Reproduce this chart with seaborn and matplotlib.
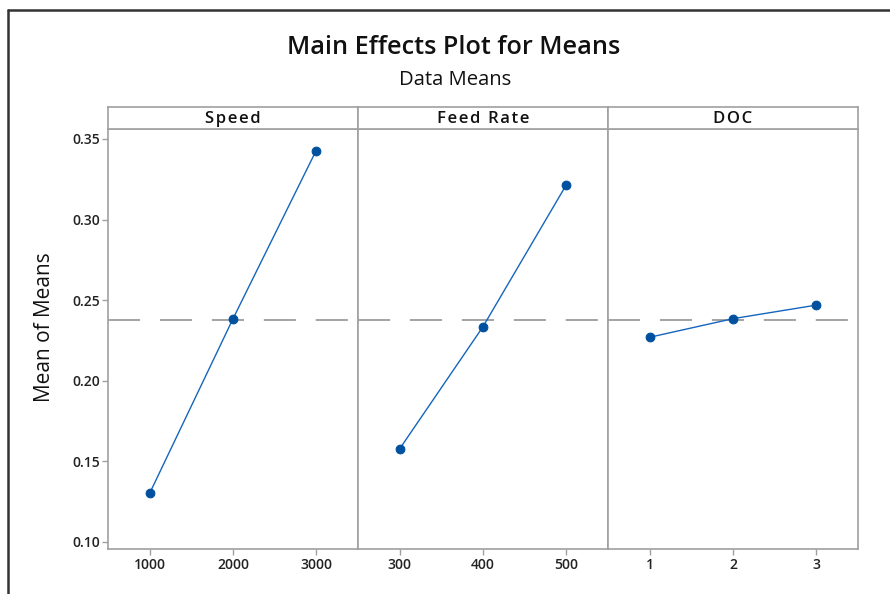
import matplotlib
matplotlib.use("Agg")
import matplotlib.pyplot as plt
import seaborn as sns
import pandas as pd
import numpy as np
from matplotlib.lines import Line2D

# ---- data ----
factors = ["Speed", "Feed Rate", "DOC"]
speed_levels = ["1000", "2000", "3000"]
speed_means = [0.1304, 0.2384, 0.3427]
feed_levels = ["300", "400", "500"]
feed_means = [0.1579, 0.2335, 0.3213]
doc_levels = ["1", "2", "3"]
doc_means = [0.2270, 0.2385, 0.2469]
y_ticks = [0.10, 0.15, 0.20, 0.25, 0.30, 0.35]
y_tick_labels = ["0.10", "0.15", "0.20", "0.25", "0.30", "0.35"]

levels_all = [speed_levels, feed_levels, doc_levels]
means_all = [speed_means, feed_means, doc_means]

rows = []
for f, lv, mv in zip(factors, levels_all, means_all):
    for l, m in zip(lv, mv):
        rows.append({"factor": f, "level": l, "mean": m})
df = pd.DataFrame(rows)
grand_mean = float(np.mean(df["mean"]))

sns.set_theme(style="white")
plt.rcParams["font.family"] = ["Open Sans", "DejaVu Sans"]

W, H = 890, 594
fig = plt.figure(figsize=(W / 100, H / 100), dpi=100)
fig.patch.set_facecolor("white")

# outer frame (top and left edges)
fig.add_artist(Line2D([8 / W, 1.0], [1 - 10 / H, 1 - 10 / H], color="#333333", lw=1.8,
                      transform=fig.transFigure))
fig.add_artist(Line2D([8 / W, 8 / W], [0, 1 - 10 / H], color="#333333", lw=1.8,
                      transform=fig.transFigure))

grey = "#a0a0a0"
blue = "#1565bd"
mk = "#0050a0"

panel_left = [108.3, 358.3, 608.3]
panel_w = 249.3
top_px, bot_px = 129, 548.5
strip_top = 107.3

def spaced(s):
    return "\u200a".join(list(s))

for i, f in enumerate(factors):
    x0 = panel_left[i] / W
    ax = fig.add_axes([x0, (H - bot_px) / H, panel_w / W, (bot_px - top_px) / H])
    sub = df[df["factor"] == f]
    sns.pointplot(data=sub, x="level", y="mean", order=levels_all[i], ax=ax,
                  color=blue, errorbar=None, markers="o", markersize=6.3,
                  linewidth=1.0, markeredgecolor=mk, markerfacecolor=mk)
    ax.axhline(grand_mean, color="#8a8a8a", lw=1.1, linestyle=(0, (21, 13)), zorder=0)
    ax.set_xlim(-0.5, 2.5)
    ax.set_ylim(0.0959, 0.3562)
    ax.set_xlabel("")
    ax.set_ylabel("")
    for sp in ax.spines.values():
        sp.set_color(grey)
        sp.set_linewidth(1.2)
    ax.tick_params(axis="x", direction="out", length=4, width=1, color=grey,
                   labelsize=10, labelcolor="#222222", pad=3, bottom=True)
    for t in ax.get_xticklabels():
        t.set_fontweight("semibold")
    if i == 0:
        ax.set_yticks(y_ticks)
        ax.set_yticklabels(y_tick_labels)
        ax.tick_params(axis="y", direction="out", length=4, width=1, color=grey,
                       labelsize=10, labelcolor="#222222", pad=2, left=True)
        for t in ax.get_yticklabels():
            t.set_fontweight("semibold")
    else:
        ax.set_yticks(y_ticks)
        ax.tick_params(axis="y", left=False, labelleft=False)

    # strip header
    sax = fig.add_axes([x0, (H - top_px) / H, panel_w / W, (top_px - strip_top) / H])
    sax.set_xticks([])
    sax.set_yticks([])
    for sp in sax.spines.values():
        sp.set_color(grey)
        sp.set_linewidth(1.2)
    sax.text(0.5, 0.45, spaced(f), ha="center", va="center", fontsize=12,
             fontweight="semibold", color="#111111", transform=sax.transAxes)

fig.text(45 / W, 1 - 327.5 / H, "Mean of Means", rotation=90, ha="center", va="center",
         fontsize=15, fontweight="medium", color="#111111")
fig.text(454 / W, 1 - 48 / H, "Main Effects Plot for Means", ha="center", va="center",
         fontsize=18.2, fontweight="semibold", color="#111111")
fig.text(455 / W, 1 - 80 / H, "Data Means", ha="center", va="center",
         fontsize=14.6, color="#111111")

fig.savefig("out.png", dpi=100, facecolor="white")
